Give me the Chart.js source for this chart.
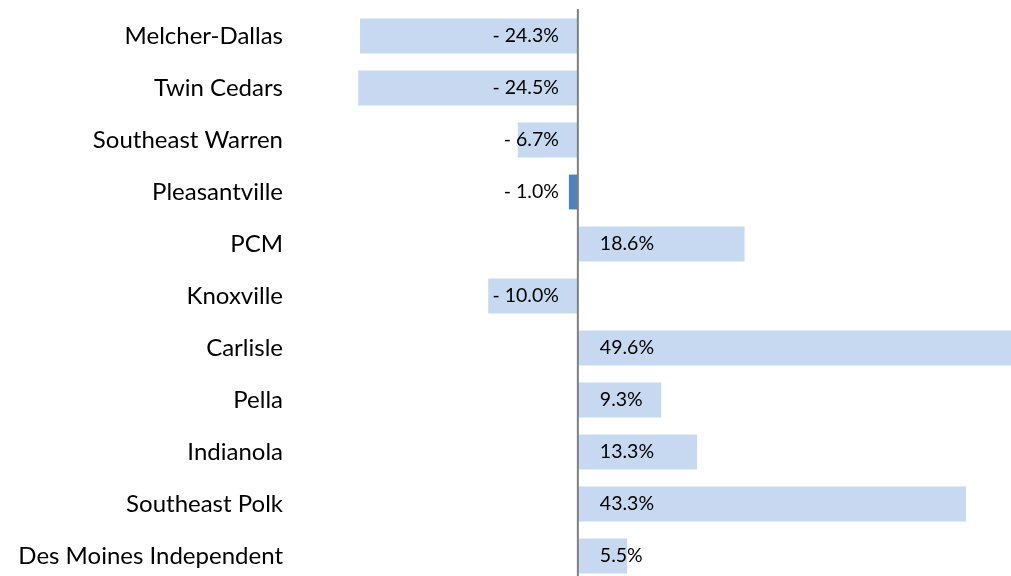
<!DOCTYPE html>
<html>
<head>
<meta charset="utf-8">
<script src="https://cdn.jsdelivr.net/npm/chart.js@4.4.0/dist/chart.umd.min.js"></script>
<style>
  html, body { margin: 0; padding: 0; background: #fff; overflow: hidden; }
</style>
</head>
<body>
<canvas id="chart" width="1026" height="582"></canvas>
<script>
// districts, top to bottom
const districts = ['Melcher-Dallas', 'Twin Cedars', 'Southeast Warren', 'Pleasantville', 'PCM',
    'Knoxville', 'Carlisle', 'Pella', 'Indianola', 'Southeast Polk', 'Des Moines Independent'];
// percent change
const changes = [-24.3, -24.5, -6.7, -1.0, 18.6, -10.0, 49.6, 9.3, 13.3, 43.3, 5.5];
const highlighted = 'Pleasantville';

const LIGHT = '#c6d9f1';
const DARK = '#4f81bd';
const FONT = 'Lato, "Open Sans", sans-serif';

function fmtPct(v) {
    return v < 0 ? '- ' + Math.abs(v).toFixed(1) + '%' : v.toFixed(1) + '%';
}

// zero line + value labels next to the axis
const labelsPlugin = {
    id: 'barLabels',
    afterDatasetsDraw(chart) {
        const ctx = chart.ctx;
        const x = chart.scales.x;
        const zero = x.getPixelForValue(0);
        ctx.save();
        ctx.strokeStyle = '#7f7f7f';
        ctx.lineWidth = 2;
        ctx.beginPath();
        ctx.moveTo(zero, chart.chartArea.top - 1);
        ctx.lineTo(zero, chart.chartArea.bottom);
        ctx.stroke();

        ctx.font = '19.5px ' + FONT;
        ctx.fillStyle = '#000';
        ctx.textBaseline = 'middle';
        chart.getDatasetMeta(0).data.forEach((bar, i) => {
            const v = changes[i];
            if (v < 0) {
                ctx.textAlign = 'right';
                ctx.fillText(fmtPct(v), zero - 19, bar.y);
            } else {
                ctx.textAlign = 'left';
                ctx.fillText(fmtPct(v), zero + 22, bar.y);
            }
        });
        ctx.restore();
    }
};

new Chart(document.getElementById('chart'), {
    type: 'bar',
    data: {
        labels: districts,
        datasets: [{
            data: changes,
            backgroundColor: districts.map(d => d === highlighted ? DARK : LIGHT),
            borderWidth: 0,
            barPercentage: 0.67,
            categoryPercentage: 1.0
        }]
    },
    options: {
        indexAxis: 'y',
        responsive: false,
        animation: false,
        layout: { padding: { top: 10, right: 0, bottom: 0, left: 0 } },
        plugins: {
            legend: { display: false },
            tooltip: { enabled: false }
        },
        scales: {
            x: {
                display: false,
                min: -31,
                max: 50
            },
            y: {
                grid: { display: false, drawTicks: false },
                border: { display: false },
                ticks: {
                    padding: 17,
                    color: '#000',
                    font: { family: FONT, size: 24 }
                },
                afterFit(scale) {
                    scale.width = 300;
                    scale.paddingTop = 0;
                    scale.paddingBottom = 0;
                }
            }
        }
    },
    plugins: [labelsPlugin]
});
</script>
</body>
</html>
